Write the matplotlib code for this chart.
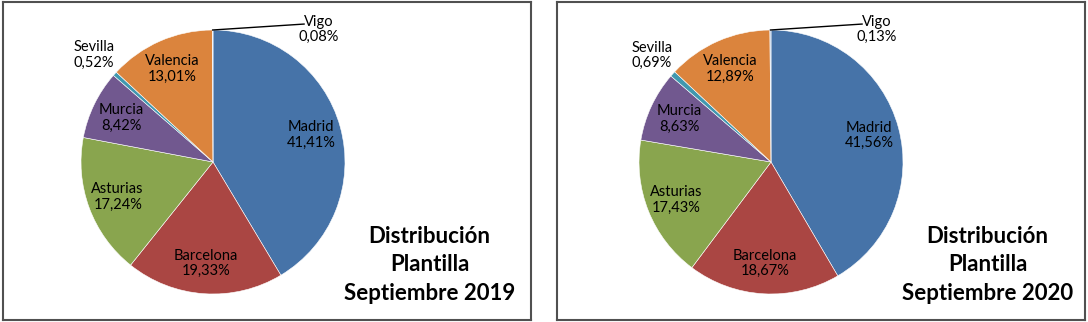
"""
Distribución de plantilla por sede, septiembre 2019 vs 2020
"""

import numpy as np
import matplotlib
matplotlib.use('Agg')
import matplotlib.pyplot as plt

plt.rcParams['font.family'] = ['Lato', 'DejaVu Sans']

# Data (percent of staff, clockwise from 12 o'clock)
sedes = ['Madrid', 'Barcelona', 'Asturias', 'Murcia', 'Sevilla', 'Valencia', 'Vigo']
pct_2019 = [41.41, 19.33, 17.24, 8.42, 0.52, 13.01, 0.08]
pct_2020 = [41.56, 18.67, 17.43, 8.63, 0.69, 12.89, 0.13]
years = ['2019', '2020']

colors = ['#4673A8', '#AA4643', '#89A54E', '#71588F', '#4198AF', '#DB843D', '#9DB8DA']

W, H = 1088, 322
R = 132.0  # pie radius in px


def fmt(v):
    return f"{v:.2f}".replace('.', ',') + '%'


def draw_panel(fig, values, year, left_px, center_px):
    # panel box in pixels (top-down y)
    x0, x1 = left_px, left_px + 528
    y0, y1 = 2, 320
    cx, cy = center_px, 162
    ax = fig.add_axes([x0 / W, (H - y1) / H, (x1 - x0) / W, (y1 - y0) / H])

    wedges, _ = ax.pie(values, colors=colors, startangle=90, counterclock=False,
                       radius=1.0, center=(0, 0),
                       wedgeprops=dict(edgecolor='white', linewidth=0.4))

    ax.set_aspect('auto')
    ax.set_xlim((x0 - cx) / R, (x1 - cx) / R)
    ax.set_ylim(-(y1 - cy) / R, (cy - y0) / R)
    ax.set_frame_on(True)
    for s in ax.spines.values():
        s.set_color('#505050')
        s.set_linewidth(1.5)
    ax.set_xticks([])
    ax.set_yticks([])

    fs = 10.5
    for w, name, v in zip(wedges, sedes, values):
        mid = np.deg2rad((w.theta1 + w.theta2) / 2)
        label = f"{name}\n{fmt(v)}"
        if name == 'Sevilla':
            ax.text(1.21 * np.cos(mid), 1.21 * np.sin(mid), label,
                    ha='center', va='center', fontsize=fs, linespacing=1.15)
        elif name == 'Vigo':
            px, py = np.cos(mid), np.sin(mid)
            ax.plot([px, 0.69], [py, 1.045], color='black', linewidth=1)
            ax.text(0.80, 1.005, label, ha='center', va='center',
                    fontsize=fs, linespacing=1.15)
        else:
            d = 0.77
            ax.text(d * np.cos(mid), d * np.sin(mid), label,
                    ha='center', va='center', fontsize=fs, linespacing=1.15)

    ax.text(1.64, -0.78, f"Distribución\nPlantilla\nSeptiembre {year}",
            ha='center', va='center', fontsize=16, fontweight='bold',
            linespacing=1.42)
    return ax


fig = plt.figure(figsize=(W / 100, H / 100), dpi=100)
draw_panel(fig, pct_2019, years[0], 3, 213)
draw_panel(fig, pct_2020, years[1], 557, 771)

plt.savefig('out.png', dpi=100)
